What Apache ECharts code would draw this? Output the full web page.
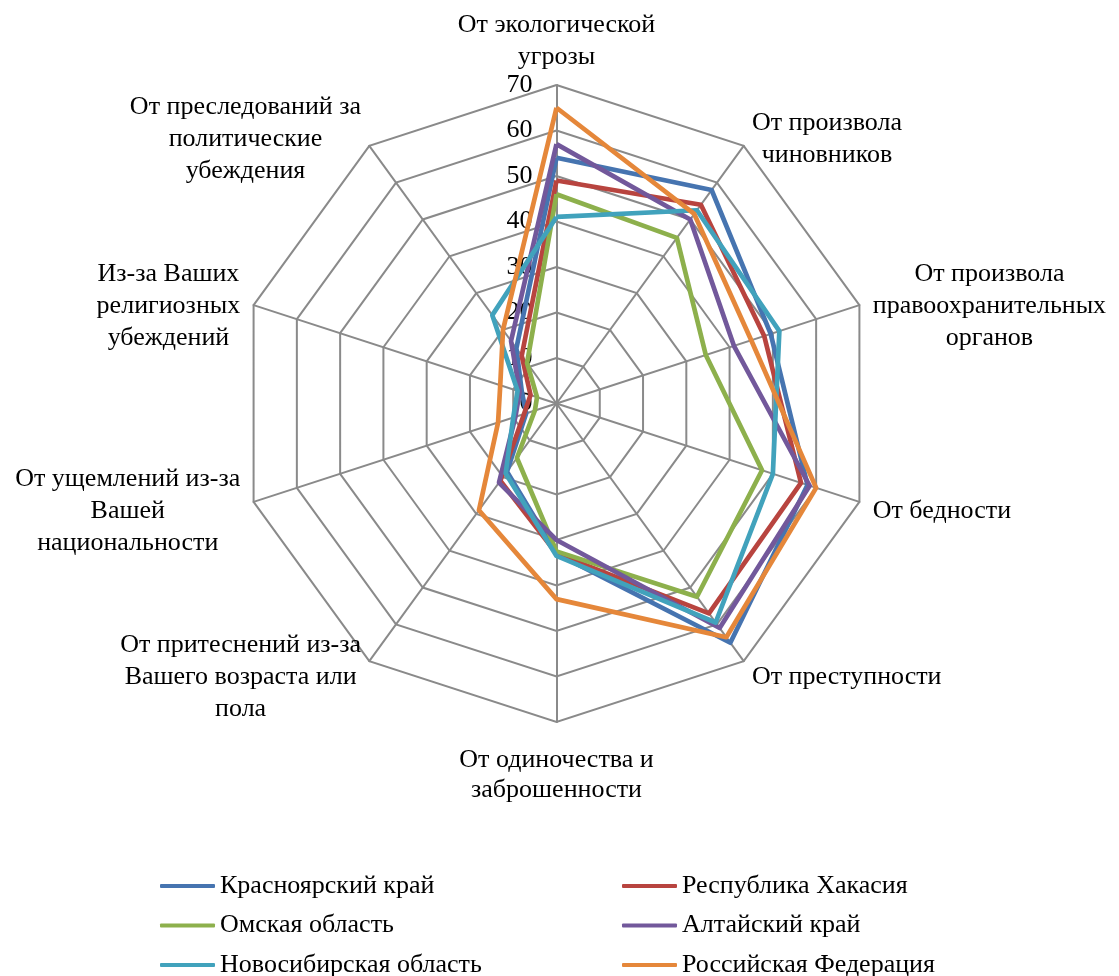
<!DOCTYPE html>
<html><head><meta charset="utf-8">
<script src="https://cdn.jsdelivr.net/npm/echarts@6/dist/echarts.min.js"></script>
<style>html,body{margin:0;padding:0;background:#fff}#c{width:1119px;height:976px}</style>
</head><body><div id="c"></div>
<script>
// Categories in the reference's clockwise order, starting at the top
const categories = [
  'От экологической\nугрозы',
  'От произвола\nчиновников',
  'От произвола\nправоохранительных\nорганов',
  'От бедности',
  'От преступности',
  'От одиночества и\nзаброшенности',
  'От притеснений из-за\nВашего возраста или\nпола',
  'От ущемлений из-за\nВашей\nнациональности',
  'Из-за Ваших\nрелигиозных\nубеждений',
  'От преследований за\nполитические\nубеждения'
];
const seriesNames = ['Красноярский край','Республика Хакасия','Омская область','Алтайский край','Новосибирская область','Российская Федерация'];
const krasnoyarsk = [54, 58, 49.5, 58, 65, 33, 18.5, 7, 8, 15];
const khakasia    = [49, 54, 48, 56.5, 57, 33, 21, 7.5, 6, 13];
const omsk        = [46, 45, 34.5, 47.5, 52.5, 32.5, 14.8, 5, 4.5, 11];
const altai       = [57, 50, 41, 58.5, 61, 30, 21.5, 9.5, 8.5, 17];
const novosib     = [41, 52.5, 51.5, 50, 59.5, 33.5, 19, 10, 9, 24];
const russia      = [65, 51.5, 45, 60, 63.5, 43, 29, 13.5, 13, 20];
const tickValues  = [0, 10, 20, 30, 40, 50, 60, 70];

const seriesValues = [krasnoyarsk, khakasia, omsk, altai, novosib, russia];
const colors = ['#4674B0', '#B8443F', '#8DB04C', '#72589B', '#41A2BC', '#E5873A'];

// ECharts places indicators counter-clockwise; reorder so they run clockwise
const n = categories.length;
const order = [0];
for (let i = n - 1; i >= 1; i--) order.push(i);

const font = 'Liberation Serif, Times New Roman, serif';
const fs = 26;
const indicator = order.map(function (k, idx) {
  const ind = { name: categories[k], min: tickValues[0], max: tickValues[tickValues.length - 1] };
  if (idx === 0) ind.axisLabel = { show: true };
  return ind;
});

function tok(lh) {
  return { align: 'center', color: '#000', fontFamily: font, fontSize: fs, lineHeight: lh };
}

const legendText = { fontFamily: font, fontSize: fs, color: '#000' };

const chart = echarts.init(document.getElementById('c'), null, { renderer: 'canvas' });
chart.setOption({
  backgroundColor: '#fff',
  animation: false,
  color: colors,
  radar: {
    center: [556.5, 403.5],
    radius: 318.5,
    startAngle: 90,
    shape: 'polygon',
    splitNumber: tickValues.length - 1,
    indicator: indicator,
    nameGap: 14,
    axisName: {
      color: '#000',
      fontFamily: font,
      fontSize: fs,
      lineHeight: 32,
      padding: [10, 0, 0, 0],
      formatter: function (name) {
        const lines = name.split('\n');
        let keys = lines.map(function () { return 'c'; });
        if (name === categories[0]) keys = ['t1', 't2'];
        else if (name === categories[5]) keys = ['b1', 'b2'];
        return lines.map(function (s, i) { return '{' + keys[i] + '|' + s + '}'; }).join('\n');
      },
      rich: {
        c: tok(32),
        t1: tok(36),
        t2: tok(28),
        b1: tok(28),
        b2: tok(32)
      }
    },
    axisLabel: {
      show: false,
      margin: 24,
      padding: [6, 0, 0, 0],
      color: '#000',
      fontFamily: font,
      fontSize: fs
    },
    axisTick: { show: false },
    axisLine: { lineStyle: { color: '#8a8a8a', width: 2 } },
    splitLine: { lineStyle: { color: '#8a8a8a', width: 2 } },
    splitArea: { show: false }
  },
  legend: [
    {
      orient: 'vertical', left: 155, top: 868, height: 108, itemGap: 13.5,
      itemWidth: 55, itemHeight: 4, icon: 'roundRect',
      data: [seriesNames[0], seriesNames[2], seriesNames[4]],
      textStyle: legendText
    },
    {
      orient: 'vertical', left: 617, top: 868, height: 108, itemGap: 13.5,
      itemWidth: 55, itemHeight: 4, icon: 'roundRect',
      data: [seriesNames[1], seriesNames[3], seriesNames[5]],
      textStyle: legendText
    }
  ],
  series: seriesNames.map(function (name, s) {
    return {
      type: 'radar',
      name: name,
      symbol: 'none',
      lineStyle: { width: 4.7, color: colors[s] },
      itemStyle: { color: colors[s] },
      data: [{ name: name, value: order.map(function (k) { return seriesValues[s][k]; }) }]
    };
  })
});
</script>
</body></html>
